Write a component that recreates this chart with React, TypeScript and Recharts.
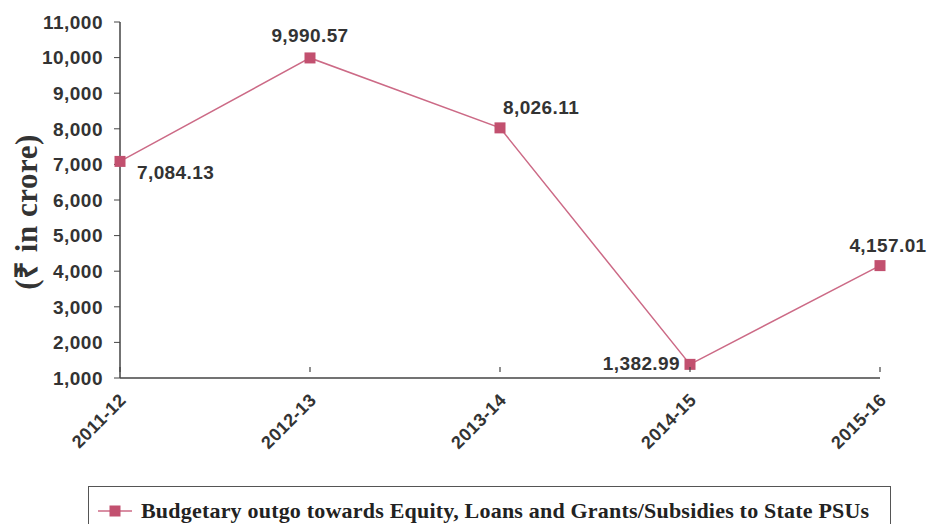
import { CartesianGrid, Label, LabelList, Line, LineChart, XAxis, YAxis } from "recharts";

const years = ["2011-12", "2012-13", "2013-14", "2014-15", "2015-16"];
const outgo = [7084.13, 9990.57, 8026.11, 1382.99, 4157.01];
const yTicks = [1000, 2000, 3000, 4000, 5000, 6000, 7000, 8000, 9000, 10000, 11000];
const seriesName = "Budgetary outgo towards Equity, Loans and Grants/Subsidies to State PSUs";

const data = years.map((year, i) => ({ year, outgo: outgo[i] }));

const LINE = "#cc6a86";
const MARK = "#c2506f";
const TEXT = "#333333";
const AXIS = "#444";
const SANS = "'Liberation Sans', Arial, sans-serif";
const SERIF = "'Liberation Serif', 'Times New Roman', serif";

const fmt = (v: number) => v.toLocaleString("en-US");
const fmt2 = (v: number) => v.toLocaleString("en-US", { minimumFractionDigits: 2, maximumFractionDigits: 2 });

// where each value label sits relative to its point
const labelPos = [
  { dx: 17, dy: 11, anchor: "start" },
  { dx: 0, dy: -22, anchor: "middle" },
  { dx: 3, dy: -20, anchor: "start" },
  { dx: -10, dy: -1, anchor: "end" },
  { dx: 8, dy: -20, anchor: "middle" },
];

function SquareDot(props: any) {
  const { cx, cy } = props;
  if (cx == null || cy == null) return null;
  return <rect x={cx - 5.5} y={cy - 5.5} width={11} height={11} fill={MARK} />;
}

function ValueLabel(props: any) {
  const { x, y, value, index } = props;
  const p = labelPos[index];
  return (
    <text
      x={x + p.dx}
      y={y + p.dy}
      textAnchor={p.anchor}
      dominantBaseline="central"
      fontFamily={SANS}
      fontWeight="bold"
      fontSize={19}
      letterSpacing={0.4}
      fill={TEXT}
    >
      {fmt2(value)}
    </text>
  );
}

function XTick(props: any) {
  const { x, y, payload } = props;
  return (
    <g>
      <line x1={x} x2={x} y1={y - 11} y2={y - 6} stroke={AXIS} strokeWidth={1.2} />
      <g transform={`translate(${x + 3},${y + 19})`}>
        <text
          transform="rotate(-45)"
          textAnchor="end"
          dominantBaseline="central"
          fontFamily={SANS}
          fontWeight="bold"
          fontSize={18}
          letterSpacing={0.4}
          fill={TEXT}
        >
          {payload.value}
        </text>
      </g>
    </g>
  );
}

export default function App() {
  return (
    <div style={{ position: "absolute", left: 0, top: 0, width: 931, height: 524, background: "#fff", overflow: "hidden" }}>
      <LineChart width={931} height={524} data={data} margin={{ top: 22, right: 51, left: 0, bottom: 0 }}>
        <CartesianGrid stroke="none" />
        <XAxis
          dataKey="year"
          height={146}
          axisLine={{ stroke: AXIS, strokeWidth: 1.5 }}
          tickLine={false}
          tickSize={0}
          tickMargin={0}
          tick={<XTick />}
          interval={0}
        />
        <YAxis
          width={120}
          domain={[1000, 11000]}
          ticks={yTicks}
          tickFormatter={fmt}
          axisLine={{ stroke: AXIS, strokeWidth: 1.5 }}
          tickLine={{ stroke: AXIS }}
          tickSize={6}
          tickMargin={11}
          tick={{ fontFamily: SANS, fontWeight: "bold", fontSize: 19, fill: TEXT, letterSpacing: 0.5 }}
        >
          <Label
            content={({ viewBox }: any) => {
              const cx = viewBox.x + 26;
              const cy = 212;
              return (
                <text
                  x={cx}
                  y={cy}
                  transform={`rotate(-90, ${cx}, ${cy})`}
                  textAnchor="middle"
                  dominantBaseline="central"
                  fontFamily={SERIF}
                  fontWeight="bold"
                  fontSize={31}
                  letterSpacing={0.5}
                  fill={TEXT}
                >
                  (₹ in crore)
                </text>
              );
            }}
          />
        </YAxis>
        <Line
          type="linear"
          dataKey="outgo"
          name={seriesName}
          stroke={LINE}
          strokeWidth={1.5}
          dot={<SquareDot />}
          activeDot={false}
          isAnimationActive={false}
        >
          <LabelList dataKey="outgo" content={<ValueLabel />} />
        </Line>
      </LineChart>
      <div
        style={{
          position: "absolute",
          left: 88,
          top: 486,
          width: 803,
          height: 60,
          border: "1.5px solid #555",
          boxSizing: "border-box",
          background: "#fff",
        }}
      >
        <div style={{ display: "flex", alignItems: "center", paddingLeft: 9, paddingTop: 11 }}>
          <svg width={34} height={14} style={{ marginRight: 9 }}>
            <line x1={0} y1={7} x2={34} y2={7} stroke={LINE} strokeWidth={1.5} />
            <rect x={11.5} y={1.5} width={11} height={11} fill={MARK} />
          </svg>
          <span style={{ fontFamily: SERIF, fontWeight: "bold", fontSize: 22, color: "#222", letterSpacing: 0.2, whiteSpace: "nowrap" }}>
            {seriesName}
          </span>
        </div>
      </div>
    </div>
  );
}
